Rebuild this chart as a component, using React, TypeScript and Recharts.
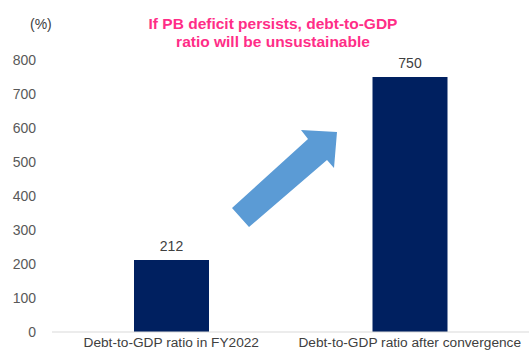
import React from "react";
import { Bar, BarChart, LabelList, XAxis, YAxis } from "recharts";

const categories = ["Debt-to-GDP ratio in FY2022", "Debt-to-GDP ratio after convergence"];
const debtRatio = [212, 750];
const yTicks = [0, 100, 200, 300, 400, 500, 600, 700, 800];

const data = categories.map((name, i) => ({ name, value: debtRatio[i] }));

const font = "'Liberation Sans', Arial, sans-serif";

const App = () => {
  return (
    <div style={{ position: "absolute", left: 0, top: 0, width: 529, height: 356, background: "#fff", fontFamily: font }}>
      <BarChart width={529} height={356} data={data} margin={{ top: 60, right: 0, bottom: 0, left: 0 }}>
        <XAxis
          dataKey="name"
          axisLine={{ stroke: "#D9D9D9" }}
          tickLine={false}
          tickSize={0}
          tickMargin={5}
          height={24}
          interval={0}
          tick={{ fill: "#404040", fontSize: 13.7, fontFamily: font }}
        />
        <YAxis
          domain={[0, 800]}
          ticks={yTicks}
          axisLine={false}
          tickLine={false}
          width={52}
          tickMargin={10}
          tick={{ fill: "#595959", fontSize: 14, fontFamily: font }}
        />
        <Bar dataKey="value" fill="#002060" barSize={75} isAnimationActive={false}>
          <LabelList dataKey="value" position="top" offset={9} fill="#404040" fontSize={14} fontFamily={font} />
        </Bar>
      </BarChart>
      <div style={{ position: "absolute", left: 30, top: 16, fontSize: 14, color: "#404040" }}>(%)</div>
      <div
        style={{
          position: "absolute",
          left: 113,
          top: 15,
          width: 320,
          textAlign: "center",
          fontSize: 15.5,
          fontWeight: "bold",
          lineHeight: "18px",
          color: "#FF2D87"
        }}
      >
        If PB deficit persists, debt-to-GDP
        <br />
        ratio will be unsustainable
      </div>
      <svg style={{ position: "absolute", left: 0, top: 0 }} width={529} height={356}>
        <polygon
          points="232,208 308,139 301,130 337,132 334,168 327,160 249,227"
          fill="#5B9BD5"
        />
      </svg>
    </div>
  );
};

export default App;
